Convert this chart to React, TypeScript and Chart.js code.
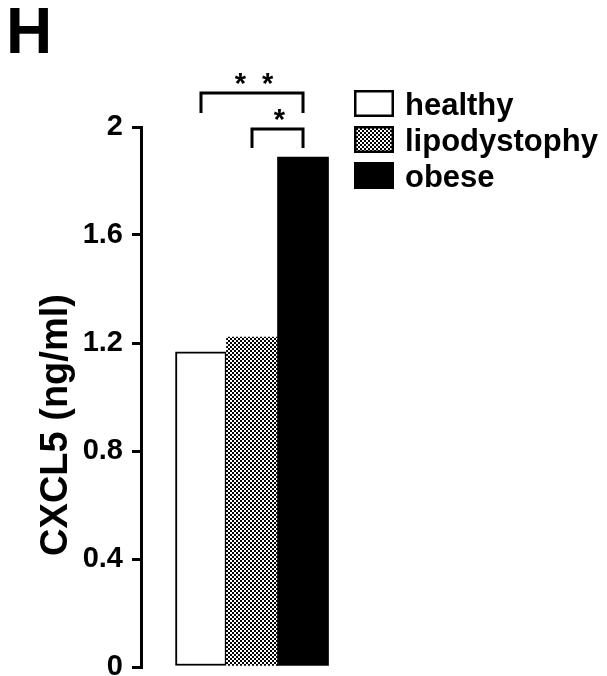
import React, { useEffect, useRef } from 'react';
import { Chart, registerables } from 'chart.js';

Chart.register(...registerables);

const PANEL = 'H';
const categories = ['healthy', 'lipodystophy', 'obese'];
const values = [1.167, 1.222, 1.889];
const yTicks = [0, 0.4, 0.8, 1.2, 1.6, 2];
const yTitle = 'CXCL5 (ng/ml)';
const sigLabels = ['*  *', '*'];
const sigFrom = [0, 1];
const sigTo = [2, 2];
const sigTop = [2.126, 1.993];
const sigLeg = [2.052, 1.922];

const FONT = '"Liberation Sans", Arial, Helvetica, sans-serif';

function makeChecker(ctx: CanvasRenderingContext2D) {
  const c = document.createElement('canvas');
  c.width = 4;
  c.height = 4;
  const g = c.getContext('2d')!;
  g.fillStyle = '#ffffff';
  g.fillRect(0, 0, 4, 4);
  g.fillStyle = '#000000';
  g.fillRect(0, 0, 2, 2);
  g.fillRect(2, 2, 2, 2);
  return ctx.createPattern(c, 'repeat')!;
}

const extras = {
  id: 'extras',
  afterDraw(chart: any) {
    const { ctx, chartArea } = chart;
    const xs = chart.scales.x;
    const ys = chart.scales.y;
    const colors = chart.data.datasets[0].backgroundColor;
    ctx.save();
    ctx.fillStyle = '#000';
    ctx.textBaseline = 'alphabetic';
    // panel letter
    ctx.font = `bold 64px ${FONT}`;
    ctx.textAlign = 'left';
    ctx.fillText(PANEL, 6, 53);
    // y axis title
    ctx.save();
    ctx.translate(57, (chartArea.top + chartArea.bottom) / 2 + 28);
    ctx.rotate(-Math.PI / 2);
    ctx.font = `bold 38px ${FONT}`;
    ctx.textAlign = 'center';
    ctx.textBaseline = 'middle';
    ctx.fillText(yTitle, 0, 0);
    ctx.restore();
    // significance brackets
    ctx.strokeStyle = '#000';
    ctx.lineWidth = 3;
    sigLabels.forEach((lab, i) => {
      const x1 = xs.getPixelForValue(sigFrom[i]);
      const x2 = xs.getPixelForValue(sigTo[i]);
      const yt = ys.getPixelForValue(sigTop[i]);
      const yl = ys.getPixelForValue(sigLeg[i]);
      ctx.beginPath();
      ctx.moveTo(x1, yl);
      ctx.lineTo(x1, yt);
      ctx.lineTo(x2, yt);
      ctx.lineTo(x2, yl);
      ctx.stroke();
      ctx.font = `bold 29px ${FONT}`;
      ctx.textAlign = 'center';
      ctx.fillText(lab, (x1 + x2) / 2 + 2, yt);
    });
    // legend
    const lx = chartArea.right + 14;
    const top0 = 90;
    const gap = 36;
    const bw = 40;
    const bh = 27;
    categories.forEach((c, i) => {
      const t = top0 + i * gap;
      ctx.fillStyle = colors[i];
      ctx.fillRect(lx, t, bw, bh);
      ctx.lineWidth = 2.5;
      ctx.strokeStyle = '#000';
      ctx.strokeRect(lx + 1.25, t + 1.25, bw - 2.5, bh - 2.5);
      ctx.fillStyle = '#000';
      ctx.font = `bold 31px ${FONT}`;
      ctx.textAlign = 'left';
      ctx.fillText(c, lx + 51, t + bh - 2);
    });
    ctx.restore();
  },
};

export default function App() {
  const ref = useRef<HTMLCanvasElement | null>(null);
  useEffect(() => {
    const canvas = ref.current!;
    const ctx = canvas.getContext('2d')!;
    const pattern = makeChecker(ctx);
    const chart = new Chart(canvas, {
      type: 'bar',
      data: {
        datasets: [
          {
            label: yTitle,
            data: values.map((v, i) => ({ x: i, y: v })) as any,
            backgroundColor: ['#ffffff', pattern as any, '#000000'],
            borderColor: '#000000',
            borderWidth: [2, 0, 0] as any,
            borderSkipped: false,
            barPercentage: 1,
            categoryPercentage: 1,
          },
        ],
      },
      options: {
        responsive: false,
        animation: false,
        devicePixelRatio: 1,
        layout: { padding: { top: 127, bottom: 9, left: 0, right: 267 } },
        plugins: { legend: { display: false }, tooltip: { enabled: false } },
        scales: {
          x: {
            type: 'linear',
            display: false,
            offset: false,
            grid: { offset: false },
            min: -1.176,
            max: 2.725,
            afterBuildTicks: (s: any) => {
              s.ticks = categories.map((_, i) => ({ value: i }));
            },
          },
          y: {
            min: 0,
            max: 2,
            afterBuildTicks: (s: any) => {
              s.ticks = yTicks.map((v) => ({ value: v }));
            },
            afterFit: (s: any) => {
              s.width = 141;
              s.paddingTop = 0;
              s.paddingBottom = 0;
            },
            ticks: {
              color: '#000',
              padding: 9,
              font: { family: FONT, size: 29, weight: 'bold' },
              callback: (v: any) => String(v),
            },
            grid: {
              display: true,
              drawOnChartArea: false,
              drawTicks: true,
              tickLength: 9,
              color: '#000',
              lineWidth: 3,
            },
            border: { display: true, color: '#000', width: 3 },
            title: { display: false },
          },
        },
      },
      plugins: [extras],
    });
    return () => chart.destroy();
  }, []);
  return (
    <div style={{ position: 'absolute', left: 0, top: 0, width: 607, height: 676 }}>
      <canvas ref={ref} width={607} height={676} style={{ width: 607, height: 676, display: 'block' }} />
    </div>
  );
}
